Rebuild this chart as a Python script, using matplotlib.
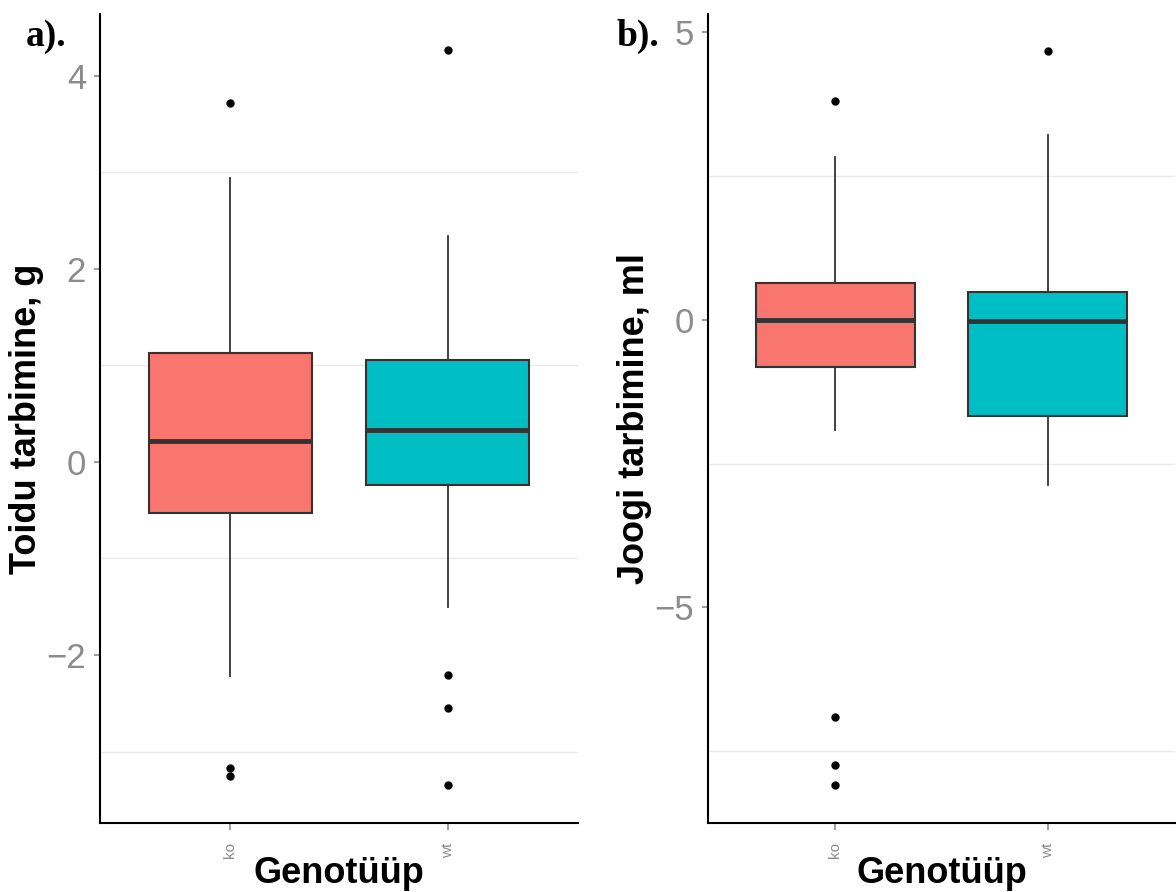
import numpy as np
import matplotlib
matplotlib.use("Agg")
import matplotlib.pyplot as plt

plt.rcParams["font.family"] = ["Liberation Sans", "DejaVu Sans"]

genotypes = ["ko", "wt"]
box_colors = ["#F8766D", "#00BFC4"]

# toidu tarbimine (g): five-number summary + outliers per genotype
food_whislo = [-2.22, -1.50]
food_q1 = [-0.53, -0.24]
food_med = [0.22, 0.33]
food_q3 = [1.13, 1.06]
food_whishi = [2.94, 2.34]
food_fliers = [[3.72, -3.17, -3.25], [4.27, -2.21, -2.55, -3.35]]

# joogi tarbimine (ml)
drink_whislo = [-1.91, -2.87]
drink_q1 = [-0.82, -1.67]
drink_med = [0.0, -0.02]
drink_q3 = [0.64, 0.49]
drink_whishi = [2.83, 3.22]
drink_fliers = [[3.81, -6.90, -7.74, -8.09], [4.68]]


def make_stats(lo, q1, med, q3, hi, fliers):
    out = []
    for i in range(len(genotypes)):
        out.append(dict(whislo=lo[i], q1=q1[i], med=med[i], q3=q3[i],
                        whishi=hi[i], fliers=fliers[i], label=genotypes[i]))
    return out


def draw_panel(ax, stats, ylim, yticks, grid, ylabel, tag, tag_x):
    for y in grid:
        ax.axhline(y, color="#EBEBEB", lw=1, zorder=0)
    bp = ax.bxp(stats, positions=[1, 2], widths=0.75, patch_artist=True,
                showcaps=False,
                boxprops=dict(edgecolor="#333333", linewidth=1.5),
                whiskerprops=dict(color="#333333", linewidth=1.3),
                medianprops=dict(color="#333333", linewidth=3.5),
                flierprops=dict(marker="o", markerfacecolor="black",
                                markeredgecolor="black", markersize=5))
    for patch, c in zip(bp["boxes"], box_colors):
        patch.set_facecolor(c)
    ax.set_xlim(0.4, 2.6)
    ax.set_ylim(*ylim)
    ax.set_yticks(yticks)
    ax.set_yticklabels([str(t).replace("-", "\u2212") for t in yticks])
    ax.set_xticks([1, 2])
    ax.set_xticklabels(genotypes, rotation=90)
    for s in ["top", "right"]:
        ax.spines[s].set_visible(False)
    for s in ["left", "bottom"]:
        ax.spines[s].set_linewidth(1.5)
        ax.spines[s].set_color("black")
    ax.tick_params(axis="y", labelsize=25, labelcolor="#8C8C8C",
                   color="#8C8C8C", length=4, width=1.2, pad=6)
    ax.tick_params(axis="x", labelsize=11, labelcolor="#8C8C8C",
                   color="#8C8C8C", length=5, width=1.2, pad=9)
    ax.set_xlabel("Genotüüp", fontsize=26, fontweight="bold", labelpad=-2)
    ax.set_ylabel(ylabel, fontsize=26, fontweight="bold", labelpad=2)
    ax.text(tag_x, 0.972, tag, transform=ax.transAxes, fontsize=27,
            fontweight="bold", family="Liberation Serif", va="center")


fig = plt.figure(figsize=(11.76, 8.92), dpi=100)
ax1 = fig.add_axes([100 / 1176, 69 / 892, 478 / 1176, 809 / 892])
ax2 = fig.add_axes([708 / 1176, 69 / 892, 467 / 1176, 809 / 892])

draw_panel(ax1, make_stats(food_whislo, food_q1, food_med, food_q3, food_whishi, food_fliers),
           (-3.74, 4.64), [-2, 0, 2, 4], [-3, -1, 1, 3], "Toidu tarbimine, g", "a).",
           -0.155)
draw_panel(ax2, make_stats(drink_whislo, drink_q1, drink_med, drink_q3, drink_whishi, drink_fliers),
           (-8.75, 5.32), [-5, 0, 5], [-7.5, -2.5, 2.5], "Joogi tarbimine, ml", "b).",
           -0.195)

fig.savefig("out.png", dpi=100)
